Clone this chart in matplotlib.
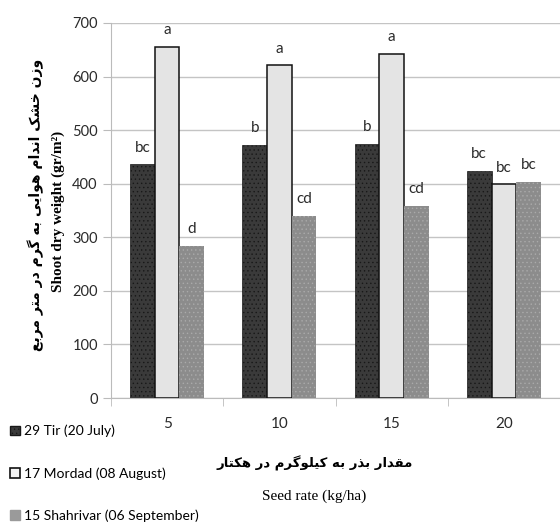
import matplotlib
matplotlib.use("Agg")
import numpy as np
import matplotlib.pyplot as plt
from matplotlib.patches import Patch

# data
seed_rates = ["5", "10", "15", "20"]
tir = [436, 472, 475, 424]
mordad = [656, 621, 642, 399]
shahrivar = [284, 340, 358, 403]
tir_letters = ["bc", "b", "b", "bc"]
mordad_letters = ["a", "a", "a", "bc"]
shahrivar_letters = ["d", "cd", "cd", "bc"]
series_names = ["29 Tir (20 July)", "17 Mordad (08 August)", "15 Shahrivar (06 September)"]

y_label_fa = "وزن خشک اندام هوایی به گرم در متر مربع"
y_label_en = "Shoot dry weight (gr/m²)"
x_label_fa = "مقدار بذر به کیلوگرم در هکتار"
x_label_en = "Seed rate (kg/ha)"

# minimal persian shaping (matplotlib has no arabic shaping / bidi)
FORMS = {
    "ا": ("\uFE8D", "\uFE8E", None, None),
    "ب": ("\uFE8F", "\uFE90", "\uFE91", "\uFE92"),
    "ت": ("\uFE95", "\uFE96", "\uFE97", "\uFE98"),
    "خ": ("\uFEA5", "\uFEA6", "\uFEA7", "\uFEA8"),
    "د": ("\uFEA9", "\uFEAA", None, None),
    "ذ": ("\uFEAB", "\uFEAC", None, None),
    "ر": ("\uFEAD", "\uFEAE", None, None),
    "ز": ("\uFEAF", "\uFEB0", None, None),
    "ش": ("\uFEB5", "\uFEB6", "\uFEB7", "\uFEB8"),
    "ع": ("\uFEC9", "\uFECA", "\uFECB", "\uFECC"),
    "ق": ("\uFED5", "\uFED6", "\uFED7", "\uFED8"),
    "ل": ("\uFEDD", "\uFEDE", "\uFEDF", "\uFEE0"),
    "م": ("\uFEE1", "\uFEE2", "\uFEE3", "\uFEE4"),
    "ن": ("\uFEE5", "\uFEE6", "\uFEE7", "\uFEE8"),
    "ه": ("\uFEE9", "\uFEEA", "\uFEEB", "\uFEEC"),
    "و": ("\uFEED", "\uFEEE", None, None),
    "ک": ("\uFB8E", "\uFB8F", "\uFB90", "\uFB91"),
    "گ": ("\uFB92", "\uFB93", "\uFB94", "\uFB95"),
    "ی": ("\uFBFC", "\uFBFD", "\uFBFE", "\uFBFF"),
}


def shape(text):
    out = []
    for i, ch in enumerate(text):
        if ch not in FORMS:
            out.append(ch)
            continue
        prev = text[i - 1] if i > 0 else ""
        nxt = text[i + 1] if i + 1 < len(text) else ""
        join_prev = prev in FORMS and FORMS[prev][2] is not None
        join_next = FORMS[ch][2] is not None and nxt in FORMS
        iso, fin, ini, med = FORMS[ch]
        if join_prev and join_next:
            out.append(med)
        elif join_prev:
            out.append(fin)
        elif join_next:
            out.append(ini)
        else:
            out.append(iso)
    return "".join(reversed(out))


plt.rcParams["hatch.linewidth"] = 0.5

fig = plt.figure(figsize=(5.6, 5.22), dpi=100)
ax = fig.add_axes([111 / 560, 0.2375, 449 / 560, 0.7185])

x = np.arange(len(seed_rates))
w = 0.22
b1 = ax.bar(x - w, tir, w, color="#3a3a3a", edgecolor="#181818", hatch="....", linewidth=0.5, zorder=3)
b2 = ax.bar(x, mordad, w, color="#e4e4e4", edgecolor="#111111", linewidth=1.1, zorder=3)
b3 = ax.bar(x + w, shahrivar, w, color="#8c8c8c", edgecolor="#aaaaaa", hatch="....", linewidth=0, zorder=3)

for bars, labels in [(b1, tir_letters), (b2, mordad_letters), (b3, shahrivar_letters)]:
    for bar, lab in zip(bars, labels):
        ax.annotate(lab, (bar.get_x() + bar.get_width() / 2, bar.get_height()),
                    xytext=(0, 7), textcoords="offset points", ha="center", va="bottom",
                    fontsize=11, color="#2a2a2a", family="Lato")

ax.set_xlim(-0.5, 3.49)
ax.set_ylim(0, 700)
ax.set_yticks(range(0, 701, 100))
ax.set_xticks(x)
ax.set_xticklabels(seed_rates, family="Lato", fontsize=11, color="#2a2a2a")
ax.set_xticks(np.arange(-0.5, 3.6, 1), minor=True)
ax.tick_params(axis="x", which="major", length=0, pad=14)
ax.tick_params(axis="x", which="minor", length=6, color="#bbbbbb")
ax.tick_params(axis="y", length=6, color="#bbbbbb", labelsize=10.5, labelcolor="#2a2a2a")
for lab in ax.get_yticklabels():
    lab.set_family("Lato")
ax.grid(axis="y", color="#c4c4c4", linewidth=1, zorder=0)
ax.set_axisbelow(True)
for s in ["top", "right"]:
    ax.spines[s].set_visible(False)
ax.spines["left"].set_color("#bbbbbb")
ax.spines["bottom"].set_color("#bbbbbb")

# axis titles
fig.text(36 / 560, 1 - 205 / 522, shape(y_label_fa), rotation=90, ha="center", va="center",
         fontsize=10, fontweight="bold", family="DejaVu Sans")
fig.text(58 / 560, 1 - 211 / 522, y_label_en, rotation=90, ha="center", va="center",
         fontsize=11, fontweight="bold", family="Liberation Serif")
fig.text(315 / 560, 1 - 463 / 522, shape(x_label_fa), ha="center", va="center",
         fontsize=9.5, fontweight="bold", family="DejaVu Sans")
fig.text(314 / 560, 1 - 496 / 522, x_label_en, ha="center", va="center",
         fontsize=11, family="Liberation Serif")

handles = [Patch(facecolor="#3a3a3a", edgecolor="#181818", hatch="...."),
           Patch(facecolor="#f4f4f4", edgecolor="#111111", linewidth=1.2),
           Patch(facecolor="#9a9a9a", edgecolor="#9a9a9a")]
fig.legend(handles, series_names, loc="upper left", bbox_to_anchor=(0.008, 0.197),
           frameon=False, handlelength=0.7, handleheight=0.7, handletextpad=0.3,
           labelspacing=2.15, prop={"family": "Lato", "size": 10}, borderaxespad=0)

fig.savefig("out.png", dpi=100)
